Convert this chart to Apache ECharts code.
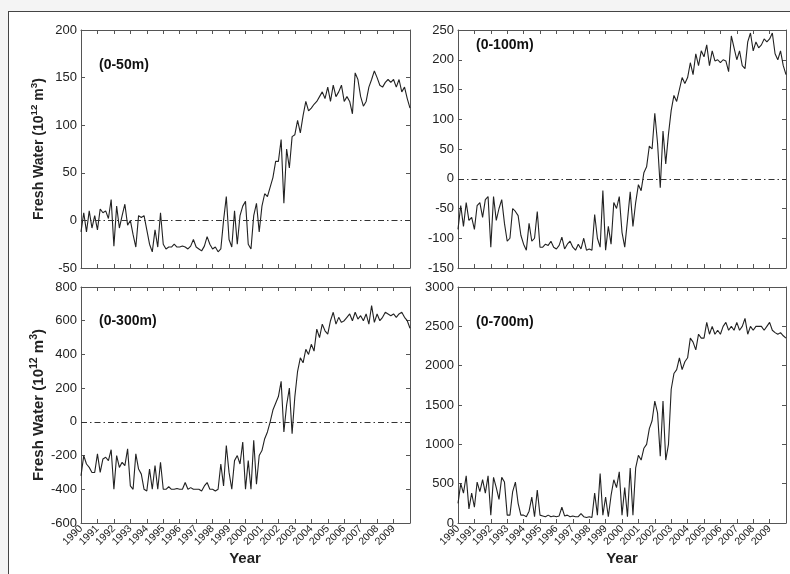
<!DOCTYPE html>
<html>
<head>
<meta charset="utf-8">
<script src="https://cdn.jsdelivr.net/npm/echarts@6/dist/echarts.min.js"></script>
<style>
  html, body { margin:0; padding:0; background:#f4f4f4; width:790px; height:574px; overflow:hidden; }
  #panel { position:absolute; left:8px; top:11px; width:800px; height:600px; background:#fff; border:1px solid #444; }
  #chart { position:absolute; left:0; top:0; width:790px; height:574px; }
</style>
</head>
<body>
<div id="panel"></div>
<div id="chart"></div>
<script>
// Sampling times: every two months from 1990 to 2010
const times = Array.from({length: 121}, (_, i) => 1990 + i / 6);

const yearTicks = [1990,1991,1992,1993,1994,1995,1996,1997,1998,1999,2000,2001,2002,2003,2004,2005,2006,2007,2008,2009];

const fw50 = [
-12, 8, -12, 10, -8, 5,
-10, 12, 8, 10, 2, 22,
-27, 15, -8, 5, 17, -5,
0, -15, -28, 5, 3, 5,
-10, -25, -33, -10, -28, 8,
-25, -30, -28, -28, -25, -28,
-28, -27, -28, -30, -27, -20,
-28, -30, -32, -27, -17, -25,
-30, -28, -33, -30, 0, 25,
-20, -28, 10, -25, 5, 15,
20, -25, -30, 5, 18, -12,
15, 28, 25, 35, 45, 62,
62, 85, 18, 75, 55, 88,
90, 105, 92, 110, 125, 115,
118, 122, 125, 130, 135, 128,
140, 125, 142, 130, 135, 142,
125, 130, 125, 112, 155, 148,
130, 120, 125, 140, 148, 157,
150, 142, 140, 145, 148, 145,
148, 140, 148, 135, 140, 128,
118];

const fw100 = [
-85, -45, -80, -40, -70, -65,
-85, -45, -40, -65, -35, -30,
-115, -30, -70, -50, -35, -75,
-105, -100, -50, -55, -62, -95,
-110, -120, -75, -105, -100, -55,
-115, -115, -110, -112, -105, -115,
-118, -112, -98, -118, -110, -105,
-115, -120, -110, -118, -100, -120,
-118, -120, -60, -100, -115, -20,
-120, -80, -110, -40, -50, -30,
-90, -115, -70, -22, -80, -40,
-10, -20, 10, 20, 55, 50,
110, 60, -15, 80, 25, 75,
115, 140, 130, 150, 170, 160,
170, 195, 175, 210, 190, 215,
205, 225, 190, 215, 198, 200,
195, 200, 198, 180, 240, 220,
200, 215, 190, 185, 230, 245,
215, 230, 220, 225, 235, 230,
235, 245, 210, 200, 215, 190,
175];

const fw300 = [
-320, -200, -250, -270, -300, -300,
-190, -300, -220, -210, -230, -165,
-400, -200, -270, -240, -260, -160,
-380, -400, -190, -280, -310, -400,
-410, -280, -400, -260, -400, -240,
-400, -400, -385, -400, -400, -395,
-400, -400, -360, -400, -390, -400,
-400, -400, -410, -380, -360, -400,
-400, -410, -400, -250, -380, -140,
-300, -400, -230, -200, -250, -120,
-400, -230, -400, -110, -370, -200,
-170, -100, -60, 0, 70, 110,
150, 240, -60, 100, 200, -70,
150, 300, 380, 350, 430, 400,
460, 420, 550, 500, 580, 540,
520, 600, 650, 580, 620, 590,
600, 620, 640, 600, 650, 610,
630, 600, 640, 580, 690, 590,
640, 600, 620, 650, 640, 630,
640, 620, 640, 650, 620, 600,
555];

const fw700 = [
250, 500, 380, 600, 180, 380,
200, 520, 400, 550, 380, 600,
100, 580, 450, 300, 580, 520,
100, 100, 400, 520, 250, 100,
100, 80, 150, 330, 80, 420,
100, 90, 80, 100, 80, 90,
80, 90, 200, 90, 100, 80,
90, 80, 80, 120, 80, 70,
80, 70, 380, 100, 630, 100,
330, 80, 350, 550, 450, 650,
100, 450, 80, 700, 100, 700,
860, 800, 950, 1000, 1200, 1300,
1550, 1400, 850, 1550, 800, 1000,
1700, 1900, 1950, 2100, 1950, 2050,
2100, 2350, 2300, 2200, 2400, 2350,
2350, 2550, 2400, 2500, 2400, 2450,
2400, 2500, 2550, 2450, 2500, 2450,
2550, 2450, 2500, 2600, 2400, 2500,
2450, 2500, 2500, 2500, 2450, 2500,
2550, 2450, 2420, 2400, 2420, 2380,
2350];

const panelLabels = ['(0-50m)', '(0-100m)', '(0-300m)', '(0-700m)'];
const yRanges = [[-50, 200, 50], [-150, 250, 50], [-600, 800, 200], [0, 3000, 500]];
const seriesData = [fw50, fw100, fw300, fw700];

const FONT = 'Liberation Sans, Arial, Helvetica, sans-serif';
const AX = '#555';

const grids = [
  {left: 81, top: 30, width: 329, height: 238},
  {left: 458, top: 30, width: 328, height: 238},
  {left: 81, top: 287, width: 329, height: 236},
  {left: 458, top: 287, width: 328, height: 236}
];

const xAxes = [], yAxes = [], series = [];
grids.forEach((g, k) => {
  const bottomRow = k >= 2;
  xAxes.push({
    type: 'value', gridIndex: k, min: 1990, max: 2010, interval: 1, position: 'bottom',
    axisLine: {show: true, onZero: false, lineStyle: {color: AX, width: 1}},
    axisTick: {show: true, inside: true, length: 4, lineStyle: {color: AX}},
    splitLine: {show: false},
    axisLabel: {
      show: bottomRow, rotate: 45, fontSize: 10.5, color: '#222', fontFamily: FONT, margin: 4,
      showMinLabel: true, showMaxLabel: false, hideOverlap: false,
      formatter: v => (yearTicks.indexOf(v) >= 0 ? String(v) : '')
    }
  });
  xAxes.push({
    type: 'value', gridIndex: k, min: 1990, max: 2010, interval: 1, position: 'top',
    axisLine: {show: true, onZero: false, lineStyle: {color: AX, width: 1}},
    axisTick: {show: true, inside: true, length: 4, lineStyle: {color: AX}},
    splitLine: {show: false}, axisLabel: {show: false}
  });
  const r = yRanges[k];
  const yLeft = {
    type: 'value', gridIndex: k, min: r[0], max: r[1], interval: r[2], position: 'left',
    axisLine: {show: true, onZero: false, lineStyle: {color: AX, width: 1}},
    axisTick: {show: true, inside: true, length: 4, lineStyle: {color: AX}},
    splitLine: {show: false},
    axisLabel: {fontSize: 13, color: '#222', fontFamily: FONT, margin: 4, showMinLabel: true, showMaxLabel: true,
      formatter: v => String(v)}
  };
  if (k === 0 || k === 2) {
    const big = k === 0 ? 14 : 15;
    yLeft.name = '{t|Fresh Water (10}{s|12}{t| m}{s|3}{t|)}';
    yLeft.nameLocation = 'middle';
    yLeft.nameGap = 32;
    yLeft.nameTextStyle = {
      rich: {
        t: {fontSize: big, fontWeight: 'bold', fontFamily: FONT, color: '#222', lineHeight: 20},
        s: {fontSize: big * 0.7, fontWeight: 'bold', fontFamily: FONT, color: '#222', lineHeight: 12, verticalAlign: 'top'}
      }
    };
  }
  yAxes.push(yLeft);
  yAxes.push({
    type: 'value', gridIndex: k, min: r[0], max: r[1], interval: r[2], position: 'right',
    axisLine: {show: true, onZero: false, lineStyle: {color: AX, width: 1}},
    axisTick: {show: true, inside: true, length: 4, lineStyle: {color: AX}},
    splitLine: {show: false}, axisLabel: {show: false}
  });
  const s = {
    type: 'line', xAxisIndex: 2 * k, yAxisIndex: 2 * k,
    data: times.map((t, i) => [t, seriesData[k][i]]),
    showSymbol: false, symbol: 'none',
    lineStyle: {color: '#222', width: 1.1},
    z: 3, silent: true
  };
  if (k !== 3) {
    s.markLine = {
      silent: true, symbol: 'none', label: {show: false},
      lineStyle: {color: '#333', width: 1, type: [6, 3, 1.5, 3]},
      data: [{yAxis: 0}]
    };
  }
  series.push(s);
});

const labelPos = [[99, 58], [476, 38], [99, 314], [476, 315]];
const graphics = panelLabels.map((t, k) => ({
  type: 'text', left: labelPos[k][0], top: labelPos[k][1],
  style: {text: t, font: 'bold 14px ' + FONT, fill: '#111'}
}));
graphics.push({type: 'text', x: 245, y: 559, style: {text: 'Year', font: 'bold 15px ' + FONT, fill: '#222', textAlign: 'center', textVerticalAlign: 'middle'}});
graphics.push({type: 'text', x: 622, y: 559, style: {text: 'Year', font: 'bold 15px ' + FONT, fill: '#222', textAlign: 'center', textVerticalAlign: 'middle'}});

const chart = echarts.init(document.getElementById('chart'), null, {renderer: 'canvas'});
chart.setOption({
  animation: false,
  backgroundColor: 'transparent',
  grid: grids,
  xAxis: xAxes,
  yAxis: yAxes,
  series: series,
  graphic: graphics
});
</script>
</body>
</html>
